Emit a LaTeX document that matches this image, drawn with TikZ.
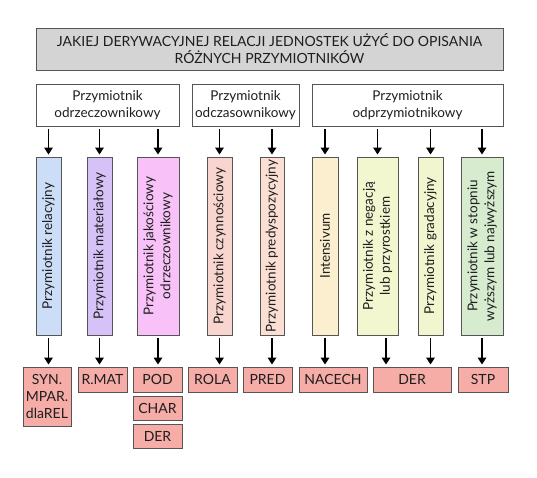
\documentclass[tikz,border=0pt]{standalone}
\usepackage{fontspec}
\setmainfont{Lato}
\usetikzlibrary{arrows.meta}
\definecolor{bordc}{HTML}{555555}
\definecolor{titlef}{HTML}{D4D4D4}
\definecolor{cA}{HTML}{CCDDF8}
\definecolor{cB}{HTML}{D6C2F6}
\definecolor{cC}{HTML}{F8C2F8}
\definecolor{cD}{HTML}{F9D5CF}
\definecolor{cE}{HTML}{FBDFD3}
\definecolor{cF}{HTML}{FCEFCF}
\definecolor{cG}{HTML}{F3F7D0}
\definecolor{cH}{HTML}{F2F6CF}
\definecolor{cI}{HTML}{D7EBCF}
\definecolor{resf}{HTML}{F6ACA7}
\definecolor{txt}{HTML}{1E1E1E}
\tikzset{
  bx/.style={draw=bordc, line width=0.9pt, inner sep=0pt, text=txt, align=center},
  titlebox/.style={bx, fill=titlef, minimum width=467pt, minimum height=42pt, font=\fontsize{14}{17}\selectfont},
  catbox/.style={bx, fill=white, minimum height=42pt, font=\fontsize{13.5}{17}\selectfont},
  vbox/.style={bx, minimum height=178pt},
  vtext/.style={rotate=90, align=center, text=txt, font=\fontsize{13.5}{17}\selectfont, inner sep=0pt},
  resbox/.style={bx, fill=resf, minimum height=25pt, font=\fontsize{14}{16.7}\selectfont},
  arr/.style={line width=1.7pt, -{Triangle[width=8.5pt,length=7pt]}, shorten <=3pt, shorten >=2pt}
}
\begin{document}
\begin{tikzpicture}[x=1pt,y=-1pt]
\useasboundingbox (0,0) rectangle (537,478);
% title
\node[titlebox] (title) at (269.5,49) {JAKIEJ DERYWACYJNEJ RELACJI JEDNOSTEK UŻYĆ DO OPISANIA\\RÓŻNYCH PRZYMIOTNIKÓW};
% categories
\node[catbox, minimum width=143pt] (k1) at (107.5,105) {Przymiotnik\\odrzeczownikowy};
\node[catbox, minimum width=107pt] (k2) at (245.5,105) {Przymiotnik\\odczasownikowy};
\node[catbox, minimum width=191pt] (k3) at (407.5,105) {Przymiotnik\\odprzymiotnikowy};
% vertical boxes
\node[vbox, fill=cA, minimum width=25pt] (v1) at (48.5,246) {};
\node[vbox, fill=cB, minimum width=25pt] (v2) at (99.5,246) {};
\node[vbox, fill=cC, minimum width=42pt] (v3) at (158,246) {};
\node[vbox, fill=cD, minimum width=25pt] (v4) at (219.5,246) {};
\node[vbox, fill=cE, minimum width=24pt] (v5) at (272,246) {};
\node[vbox, fill=cF, minimum width=26pt] (v6) at (325,246) {};
\node[vbox, fill=cG, minimum width=41pt] (v7) at (377.5,246) {};
\node[vbox, fill=cH, minimum width=25pt] (v8) at (430.5,246) {};
\node[vbox, fill=cI, minimum width=42pt] (v9) at (482,246) {};
\node[vtext] (t1) at (v1.center) {Przymiotnik relacyjny};
\node[vtext] (t2) at (v2.center) {Przymiotnik materiałowy};
\node[vtext] (t3) at (v3.center) {Przymiotnik jakościowy\\odrzeczownikowy};
\node[vtext] (t4) at (v4.center) {Przymiotnik czynnościowy};
\node[vtext] (t5) at (v5.center) {Przymiotnik predyspozycyjny};
\node[vtext] (t6) at (v6.center) {Intensivum};
\node[vtext] (t7) at (v7.center) {Przymiotnik z negacją\\lub przyrostkiem};
\node[vtext] (t8) at (v8.center) {Przymiotnik gradacyjny};
\node[vtext] (t9) at (v9.center) {Przymiotnik w stopniu\\wyższym lub najwyższym};
% result boxes
\node[resbox, minimum width=48pt, minimum height=59pt] (r1) at (47,396.5) {SYN.\\MPAR.\\dlaREL};
\node[resbox, minimum width=49pt] (r2) at (102.5,379.5) {R.MAT};
\node[resbox, minimum width=49pt] (r3) at (157.5,379.5) {POD};
\node[resbox, minimum width=49pt, minimum height=24pt] (r3b) at (157.5,408) {CHAR};
\node[resbox, minimum width=49pt, minimum height=24pt] (r3c) at (157.5,436) {DER};
\node[resbox, minimum width=49pt] (r4) at (212.5,379.5) {ROLA};
\node[resbox, minimum width=49pt] (r5) at (267.5,379.5) {PRED};
\node[resbox, minimum width=68pt] (r6) at (333,379.5) {NACECH};
\node[resbox, minimum width=78pt] (r7) at (412,379.5) {DER};
\node[resbox, minimum width=50pt] (r8) at (483,379.5) {STP};
% top arrows
\foreach \v/\k in {v1/k1,v2/k1,v3/k1,v4/k2,v5/k2,v6/k3,v7/k3,v8/k3,v9/k3}
  \draw[arr] (\v.north |- \k.south) -- (\v.north);
% bottom arrows
\foreach \v/\r in {v1/r1,v2/r2,v3/r3,v4/r4,v5/r5,v6/r6,v8/r7,v9/r8}
  \draw[arr] (\v.south) -- (\v.south |- \r.north);
\draw[arr] ([xshift=8.5pt]v7.south) -- ([xshift=8.5pt]v7.south |- r7.north);
\end{tikzpicture}
\end{document}
